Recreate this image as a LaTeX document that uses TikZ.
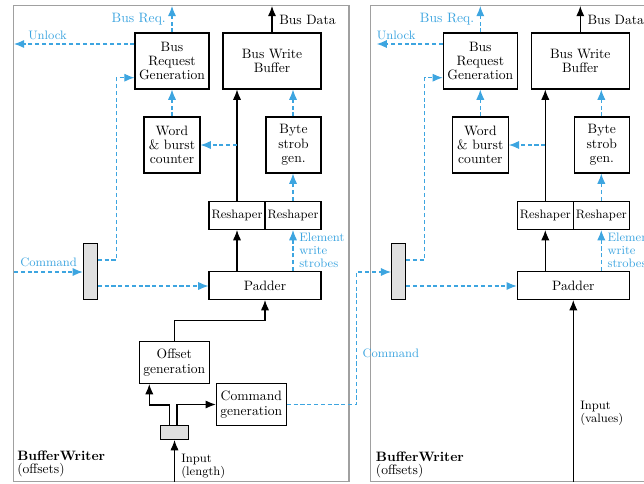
\documentclass[tikz,border=0pt]{standalone}
\usetikzlibrary{arrows.meta}
\definecolor{sigblue}{HTML}{3DA5E0}
\definecolor{panelgray}{HTML}{A0A0A0}
\definecolor{muxfill}{HTML}{E0E0E0}
\newcommand\commonparts{%
  \node[box, minimum width=54.4pt, minimum height=41.2pt] (brg) at (172,61) {Bus\\Request\\Generation};
  \node[box, minimum width=72.1pt, minimum height=41.2pt] (bwb) at (272,61) {Bus Write\\Buffer};
  \node[box, minimum width=41.2pt, minimum height=41.2pt] (wbc) at (172,145) {Word\\\& burst\\counter};
  \node[box, minimum width=40.4pt, minimum height=41.2pt] (bsg) at (293.5,145) {Byte\\strob\\gen.};
  \node[rsbox, minimum width=41.2pt, minimum height=20.6pt] (rsl) at (237,215.5) {Reshaper};
  \node[rsbox, minimum width=41.2pt, minimum height=20.6pt] (rsr) at (293,215.5) {Reshaper};
  \node[box, minimum width=82.4pt, minimum height=20.6pt] (pad) at (265,285.5) {Padder};
  \node[muxbox, minimum width=10.3pt, minimum height=41.2pt] (mux) at (90.3,271.3) {};
  \coordinate (br) at (172,6);
  \coordinate (bd) at (272,6);
  \coordinate (m1) at (116.3,260);
  \coordinate (m2) at (116.3,77.7);
  \coordinate (m3) at (100,286);
  \draw[sig] (brg.north) -- (br);
  \draw[dat] (bwb.north) -- (bd);
  \draw[sig] (wbc.north) -- (brg.south);
  \draw[dat] (rsl.north) -- (rsl.north |- bwb.south);
  \draw[sig] (bsg.north -| rsr) -- (rsr.north |- bwb.south);
  \draw[sig] (wbc.east -| rsl) -- (wbc.east);
  \draw[sig] (rsr.north) -- (rsr.north |- bsg.south);
  \draw[dat] (pad.north -| rsl) -- (rsl.south);
  \draw[sig] (pad.north -| rsr) -- (rsr.south);
  \draw[sig] (mux.east |- m3) -- (pad.west |- m3);
  \draw[sig] (mux.east |- m1) -- (m1) -- (m2) -- (brg.west |- m2);
  \node[lbl, text=sigblue, anchor=base east] (brl) at (166,22) {Bus Req.};
  \node[lbl, anchor=base west] (bdl) at (279,24) {Bus Data};
  \node[slbl, text=sigblue, anchor=north west] (ews) at (299,233.2) {Element\\write\\strobes};
}
\begin{document}
\begin{tikzpicture}[x=0.7353pt,y=-0.7353pt,
  >={Latex[length=7.5pt,width=6pt]},
  box/.style={draw, line width=0.8pt, inner sep=0pt, align=center, font=\fontsize{10}{10.5}\selectfont},
  rsbox/.style={box, font=\fontsize{9}{10}\selectfont},
  muxbox/.style={draw, line width=0.8pt, fill=muxfill, inner sep=0pt},
  sig/.style={sigblue, line width=0.8pt, dash pattern=on 3pt off 2pt, ->},
  dat/.style={black, line width=0.8pt, ->},
  lbl/.style={inner sep=0pt, font=\fontsize{10}{12}\selectfont},
  slbl/.style={inner sep=0pt, font=\fontsize{9}{9.5}\selectfont, align=left},
  panel/.style={draw=panelgray, line width=1pt}]
\useasboundingbox (0,0) rectangle (644,483);
\clip (0,0) rectangle (644,483);
% panels
\draw[panel] (13.3,5.7) rectangle (349,481.5);
\draw[panel] (370.7,5.7) rectangle (720,481.5);
% left panel
\commonparts
\node[box, minimum width=51.5pt, minimum height=30.9pt] (og) at (174.3,362.5) {Offset\\generation};
\node[box, minimum width=51.5pt, minimum height=30.9pt] (cg) at (251.3,404.5) {Command\\generation};
\node[muxbox, minimum width=20.6pt, minimum height=10.3pt] (gb) at (174.5,432.5) {};
\coordinate (ul) at (14,44);
\coordinate (cin) at (14,272);
\coordinate (t1) at (265,320.7);
\coordinate (g1) at (169.3,405);
\coordinate (g2) at (149.3,405);
\coordinate (g3) at (177,404.5);
\coordinate (inl) at (174.5,481.5);
\draw[sig] (brg.west |- ul) -- (ul);
\draw[sig] (cin) -- (mux.west |- cin);
\draw[dat] (og.north) |- (t1) -- (pad.south);
\draw[dat] (gb.north -| g1) -- (g1) -- (g2) -- (g2 |- og.south);
\draw[dat] (gb.north -| g3) -- (g3) -- (cg.west);
\draw[dat] (inl) -- (gb.south);
\node[slbl, text=sigblue, anchor=base west] (ull) at (28,39) {Unlock};
\node[slbl, text=sigblue, anchor=base west] (cml) at (20,266) {Command};
\node[slbl, anchor=north west] (inll) at (181,454.3) {Input\\(length)};
\node[lbl, anchor=base west] (bw1) at (17,460.7) {\textbf{BufferWriter}};
\node[lbl, anchor=base west] (bw2) at (17,473.3) {(offsets)};
% right panel
\begin{scope}[shift={(308.3,0)}, name prefix=r-]
\commonparts
\end{scope}
\coordinate (rul) at (376.7,44);
\coordinate (c2) at (356.7,340);
\coordinate (c3) at (380,272);
\coordinate (rin) at (573.3,481.5);
\draw[sig] (r-brg.west |- rul) -- (rul);
\draw[sig] (cg.east) -| (c2) |- (r-mux.west |- c3);
\draw[dat] (rin) -- (r-pad.south);
\node[slbl, text=sigblue, anchor=base west] (rull) at (376.7,39) {Unlock};
\node[slbl, text=sigblue, anchor=base west] (rcml) at (362.3,357.3) {Command};
\node[slbl, anchor=north west] (rinl) at (580,401) {Input\\(values)};
\node[lbl, anchor=base west] (rbw1) at (375.7,461.3) {\textbf{BufferWriter}};
\node[lbl, anchor=base west] (rbw2) at (375.7,474) {(offsets)};
\end{tikzpicture}
\end{document}
